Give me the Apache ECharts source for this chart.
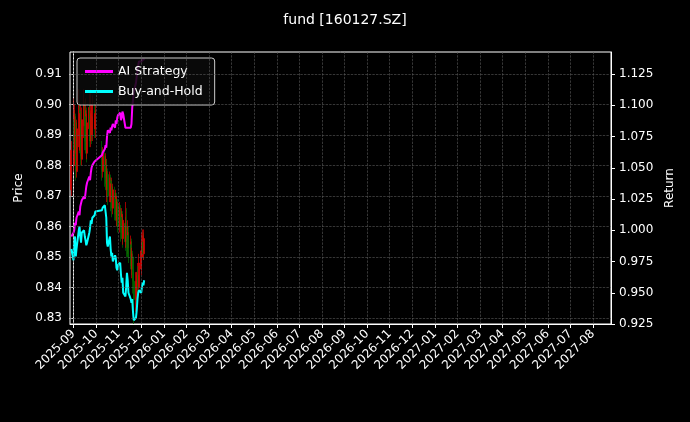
<!DOCTYPE html>
<html><head><meta charset="utf-8">
<script src="https://cdn.jsdelivr.net/npm/echarts@6/dist/echarts.min.js"></script>
<style>html,body{margin:0;background:#000}#c{width:690px;height:422px}</style>
</head><body><div id="c"></div>
<script>
const dates = ["2025-08-29",
"2025-09-01","2025-09-02","2025-09-03","2025-09-04","2025-09-05","2025-09-08","2025-09-09","2025-09-10","2025-09-11","2025-09-12","2025-09-15","2025-09-16","2025-09-17","2025-09-18","2025-09-19","2025-09-22","2025-09-23","2025-09-24","2025-09-25","2025-09-26","2025-09-29","2025-09-30",
"2025-10-09","2025-10-10","2025-10-13","2025-10-14","2025-10-15","2025-10-16","2025-10-17","2025-10-20","2025-10-21","2025-10-22","2025-10-23","2025-10-24","2025-10-27","2025-10-28","2025-10-29","2025-10-30","2025-10-31",
"2025-11-03","2025-11-04","2025-11-05","2025-11-06","2025-11-07","2025-11-10","2025-11-11","2025-11-12","2025-11-13","2025-11-14","2025-11-17","2025-11-18","2025-11-19","2025-11-20","2025-11-21","2025-11-24","2025-11-25","2025-11-26","2025-11-27","2025-11-28",
"2025-12-01","2025-12-02","2025-12-03","2025-12-04","2025-12-05"];
// [open, close, low, high]
const candles = [[0.872,0.885,0.870,0.888],
[0.880,0.898,0.878,0.902],[0.895,0.885,0.882,0.898],[0.884,0.896,0.880,0.900],[0.894,0.878,0.875,0.897],[0.878,0.892,0.876,0.895],[0.890,0.900,0.886,0.905],[0.898,0.886,0.884,0.901],[0.885,0.897,0.883,0.900],[0.895,0.882,0.880,0.898],[0.882,0.895,0.880,0.899],[0.893,0.900,0.889,0.905],[0.898,0.888,0.885,0.901],[0.887,0.898,0.885,0.902],[0.896,0.884,0.881,0.899],[0.884,0.894,0.882,0.897],[0.892,0.899,0.888,0.904],[0.897,0.888,0.886,0.900],[0.888,0.898,0.886,0.905],[0.896,0.890,0.887,0.899],[0.890,0.900,0.888,0.903],[0.898,0.892,0.889,0.901],[0.892,0.897,0.889,0.900],
[0.885,0.878,0.875,0.888],[0.878,0.884,0.876,0.886],[0.883,0.876,0.873,0.885],[0.876,0.882,0.874,0.884],[0.880,0.872,0.870,0.882],[0.872,0.878,0.868,0.880],[0.877,0.870,0.867,0.879],[0.870,0.876,0.868,0.878],[0.875,0.868,0.865,0.877],[0.868,0.874,0.866,0.876],[0.873,0.866,0.863,0.875],[0.866,0.872,0.864,0.874],[0.871,0.864,0.862,0.873],[0.864,0.870,0.862,0.872],[0.869,0.862,0.860,0.871],[0.862,0.868,0.860,0.870],[0.867,0.860,0.858,0.869],
[0.860,0.866,0.858,0.868],[0.865,0.858,0.855,0.867],[0.858,0.864,0.856,0.866],[0.863,0.856,0.853,0.865],[0.856,0.862,0.854,0.864],[0.861,0.855,0.852,0.863],[0.855,0.860,0.853,0.868],[0.860,0.853,0.850,0.866],[0.853,0.858,0.851,0.862],[0.857,0.850,0.848,0.860],[0.850,0.855,0.847,0.857],[0.854,0.846,0.844,0.856],[0.846,0.851,0.843,0.853],[0.850,0.842,0.838,0.852],[0.842,0.836,0.828,0.845],[0.836,0.842,0.832,0.845],[0.841,0.835,0.830,0.844],[0.836,0.845,0.834,0.848],[0.844,0.840,0.837,0.847],[0.840,0.848,0.838,0.851],
[0.846,0.852,0.844,0.855],[0.850,0.855,0.847,0.858],[0.852,0.857,0.850,0.859],[0.855,0.851,0.849,0.858],[0.851,0.856,0.849,0.859]];
const aiStrategy = [0.995,
0.998,1.000,1.006,1.004,1.010,1.015,1.012,1.019,1.020,1.024,1.027,1.025,1.030,1.035,1.038,1.043,1.040,1.046,1.050,1.052,1.055,1.056,
1.060,1.062,1.065,1.068,1.066,1.075,1.080,1.078,1.082,1.080,1.083,1.085,1.082,1.088,1.085,1.090,1.092,
1.094,1.088,1.090,1.095,1.093,1.082,1.083,1.082,1.082,1.083,1.082,1.085,1.098,1.099,1.110,1.118,1.123,1.128,1.132,1.135,
1.135,1.136,1.135,1.137,1.136];
const buyHold = [0.985,
0.976,0.992,0.995,0.979,0.985,1.000,1.003,0.995,0.990,0.998,1.000,0.995,0.992,0.988,0.990,0.998,1.002,1.008,1.005,1.010,1.012,1.015,
1.016,1.018,1.020,1.021,1.010,0.990,0.987,0.995,0.985,0.979,0.982,0.975,0.980,0.978,0.970,0.968,0.972,
0.974,0.965,0.958,0.962,0.950,0.947,0.955,0.966,0.960,0.950,0.945,0.942,0.945,0.935,0.928,0.930,0.936,0.945,0.950,0.952,
0.950,0.955,0.958,0.956,0.960];
const monthLabels = ["2025-09","2025-10","2025-11","2025-12","2026-01","2026-02","2026-03","2026-04","2026-05","2026-06","2026-07","2026-08","2026-09","2026-10","2026-11","2026-12","2027-01","2027-02","2027-03","2027-04","2027-05","2027-06","2027-07","2027-08"];
const priceTicks = [0.83,0.84,0.85,0.86,0.87,0.88,0.89,0.90,0.91];
const returnTicks = [0.925,0.950,0.975,1.000,1.025,1.050,1.075,1.100,1.125];

function mIdx(s){const [y,m,d]=s.split('-').map(Number);const dim=new Date(y,m,0).getDate();return (y-2025)*12+(m-9)+(d-1)/dim;}
const xs = dates.map(mIdx);
const monthVals = monthLabels.map((_,i)=>i);
const F = 'DejaVu Sans';
const grid = {type:'dashed',color:'#5a5a5a',width:0.6};
const chart = echarts.init(document.getElementById('c'));
chart.setOption({
  backgroundColor:'#000',
  animation:false,
  textStyle:{fontFamily:F},
  title:{text:'fund [160127.SZ]',left:'center',top:8,textStyle:{color:'#fff',fontSize:14,fontWeight:'normal',fontFamily:F}},
  grid:{left:70,right:79,top:52,bottom:98,show:true,borderColor:'#fff',borderWidth:1,backgroundColor:'#000'},
  legend:{left:77,top:58,orient:'vertical',itemGap:7,itemWidth:28,itemHeight:3,padding:[7,12,7,8],
    backgroundColor:'rgba(10,10,10,0.85)',borderColor:'#ccc',borderWidth:1,borderRadius:3,
    textStyle:{color:'#fff',fontSize:12.5,fontFamily:F},
    data:[{name:'AI Strategy',icon:'rect'},{name:'Buy-and-Hold',icon:'rect'}]},
  xAxis:{type:'value',min:-0.155,max:23.8,
    axisLine:{lineStyle:{color:'#fff'}},axisTick:{customValues:monthVals,lineStyle:{color:'#fff'},length:4},
    axisLabel:{customValues:monthVals,rotate:45,color:'#fff',fontSize:12,fontFamily:F,margin:8,formatter:v=>monthLabels[Math.round(v)]||''},
    splitLine:{show:false}},
  yAxis:[
    {type:'value',min:0.828,max:0.9172,name:'Price',nameLocation:'middle',nameGap:44,nameRotate:90,
      nameTextStyle:{color:'#fff',fontSize:12,fontFamily:F},
      axisLine:{show:true,lineStyle:{color:'#fff'}},axisTick:{show:true,customValues:priceTicks,lineStyle:{color:'#fff'},length:4},
      axisLabel:{customValues:priceTicks,color:'#fff',fontSize:12,fontFamily:F,formatter:v=>v.toFixed(2)},splitLine:{show:false}},
    {type:'value',min:0.925,max:1.1426,position:'right',name:'Return',nameLocation:'middle',nameGap:50,nameRotate:90,
      nameTextStyle:{color:'#fff',fontSize:12,fontFamily:F},
      axisLine:{show:true,lineStyle:{color:'#fff'}},axisTick:{show:true,customValues:returnTicks,lineStyle:{color:'#fff'},length:4},
      axisLabel:{customValues:returnTicks,color:'#fff',fontSize:12,fontFamily:F,formatter:v=>v.toFixed(3)},splitLine:{show:false}}
  ],
  series:[
    {type:'line',name:'grid',data:[],silent:true,yAxisIndex:0,
      markLine:{silent:true,symbol:'none',label:{show:false},lineStyle:grid,animation:false,
        data:monthVals.map(v=>({xAxis:v})).concat(priceTicks.map(v=>({yAxis:v})))}},
    {type:'candlestick',name:'Price',yAxisIndex:0,barWidth:1.5,
      data:xs.map((x,i)=>[x].concat(candles[i])),
      encode:{x:0,y:[1,2,3,4]},
      itemStyle:{color:'#e00000',color0:'#007000',borderColor:'#e00000',borderColor0:'#007000',borderWidth:0.7}},
    {type:'line',name:'AI Strategy',yAxisIndex:1,showSymbol:false,data:xs.map((x,i)=>[x,aiStrategy[i]]),
      lineStyle:{color:'#ff00ff',width:2},itemStyle:{color:'#ff00ff'}},
    {type:'line',name:'Buy-and-Hold',yAxisIndex:1,showSymbol:false,data:xs.map((x,i)=>[x,buyHold[i]]),
      lineStyle:{color:'#00ffff',width:2},itemStyle:{color:'#00ffff'}}
  ]
});
</script></body></html>
